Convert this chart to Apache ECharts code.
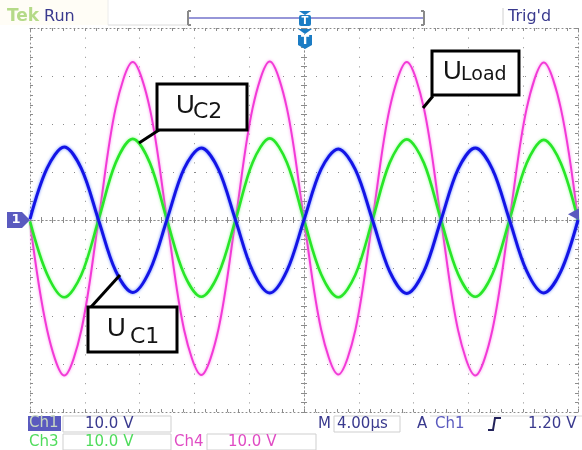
<!DOCTYPE html>
<html>
<head>
<meta charset="utf-8">
<script src="https://cdn.jsdelivr.net/npm/echarts@6/dist/echarts.min.js"></script>
<style>
  html, body { margin: 0; padding: 0; background: #fff; }
  #scope { width: 582px; height: 450px; }
</style>
</head>
<body>
<div id="scope"></div>
<script>
// Sample times (µs, trigger at 0) and the three captured voltages (V)
const timeUs = [-20, -18.75, -17.5, -16.25, -15, -13.75, -12.5, -11.25, -10, -8.75, -7.5, -6.25, -5,
  -3.75, -2.5, -1.25, 0, 1.25, 2.5, 3.75, 5, 6.25, 7.5, 8.75, 10, 11.25, 12.5, 13.75, 15, 16.25, 17.5, 18.75, 20];
const uC1 = [0.2, 10.8, 15.2, 10.7, 0, -10.6, -15.1, -10.5, 0.1, 10.7, 15.0, 10.6, 0, -10.6, -15.2, -10.6,
  0, 10.6, 14.8, 10.5, 0, -10.7, -15.3, -10.7, 0, 10.6, 15.0, 10.6, 0, -10.6, -15.2, -10.7, 0];
const uC2 = [-0.3, -11.3, -16.1, -11.4, 0, 11.9, 16.9, 11.9, 0, -11.3, -16.0, -11.3, 0, 12.0, 17.0, 12.0,
  0, -11.3, -16.1, -11.4, 0, 11.9, 16.8, 11.9, 0, -11.3, -16.0, -11.3, 0, 11.8, 16.7, 11.8, 0];
const uLoad = [-0.4, -22.9, -32.4, -22.9, 0, 23.3, 32.9, 23.2, 0, -22.9, -32.3, -22.8, 0, 23.3, 33.0, 23.3,
  0, -22.8, -32.2, -22.9, 0, 23.2, 32.9, 23.3, 0, -23.0, -32.4, -22.9, 0, 23.2, 32.8, 23.2, 0];

// Scope settings shown in the status bars
const chanNames = ['Ch1', 'Ch3', 'Ch4'];
const chanScales = ['10.0 V', '10.0 V', '10.0 V'];
const timebase = '4.00µs';
const trigSource = 'Ch1';
const trigLevelV = 1.20;
const trigLevelText = '1.20 V';

// Graticule: 10 x 8 divisions
const X_MIN = -20, X_MAX = 20, X_DIV = 4;
const Y_MIN = -40, Y_MAX = 40, Y_DIV = 10;
const G = { left: 30, top: 28, width: 548, height: 384 };

const DOT = '#8c8c8c';
const NAVY = '#3a3a8e';
const CH1 = '#5a5abf';
const CH3 = '#4fdc5c';
const CH4 = '#e04cc4';
const MARK = '#1b7cc4';
const FONT = '"DejaVu Sans", Verdana, sans-serif';

function pairs(vals) { return timeUs.map((t, i) => [t, vals[i]]); }

function axisBase(min, max, interval, extra) {
  return Object.assign({
    type: 'value', min: min, max: max, interval: interval,
    axisLabel: { show: false },
    splitLine: { show: false },
    axisLine: { show: true, onZero: false, lineStyle: { color: DOT, width: 1, type: [1, 3] } },
    axisTick: { show: true, inside: true, length: 3, lineStyle: { color: DOT } },
    minorTick: { show: true, splitNumber: 5, length: 3, lineStyle: { color: DOT } }
  }, extra);
}

const centreLine = { show: true, onZero: true, lineStyle: { color: DOT, width: 1, type: [1, 3] } };

const xAxes = [
  axisBase(X_MIN, X_MAX, X_DIV, { position: 'bottom',
    splitLine: { show: true, lineStyle: { color: DOT, width: 1, type: [1, 8.6] } } }),
  axisBase(X_MIN, X_MAX, X_DIV, { position: 'top' }),
  axisBase(X_MIN, X_MAX, X_DIV, { position: 'bottom', axisLine: centreLine }),
  axisBase(X_MIN, X_MAX, X_DIV, { position: 'bottom', axisLine: centreLine,
    axisTick: { show: true, inside: false, length: 3, lineStyle: { color: DOT } } })
];
const yAxes = [
  axisBase(Y_MIN, Y_MAX, Y_DIV, { position: 'left',
    splitLine: { show: true, lineStyle: { color: DOT, width: 1, type: [1, 10] } } }),
  axisBase(Y_MIN, Y_MAX, Y_DIV, { position: 'right' }),
  axisBase(Y_MIN, Y_MAX, Y_DIV, { position: 'left', axisLine: centreLine }),
  axisBase(Y_MIN, Y_MAX, Y_DIV, { position: 'left', axisLine: centreLine,
    axisTick: { show: true, inside: false, length: 3, lineStyle: { color: DOT } } })
];

function trace(name, vals, color, glow, width, z) {
  return {
    name: name, type: 'line', data: pairs(vals), xAxisIndex: 0, yAxisIndex: 0,
    showSymbol: false, smooth: 0.33, z: z, silent: true,
    lineStyle: { color: color, width: width, shadowColor: glow, shadowBlur: 3 }
  };
}

// Callout box with a big "U" and a subscript, plus a leader line to the trace
function callout(box, sub, uPos, subPos, subSize, leader) {
  return [
    { type: 'line', z: 100, shape: { x1: leader[0], y1: leader[1], x2: leader[2], y2: leader[3] },
      style: { stroke: '#000', lineWidth: 3 } },
    { type: 'rect', z: 101, shape: { x: box[0], y: box[1], width: box[2], height: box[3] },
      style: { fill: '#fff', stroke: '#000', lineWidth: 3 } },
    { type: 'text', z: 102, x: uPos[0], y: uPos[1],
      style: { text: 'U', font: '26px "Liberation Sans", Arial, sans-serif',
        fill: '#141414', verticalAlign: 'middle', align: 'left' } },
    { type: 'text', z: 102, x: subPos[0], y: subPos[1],
      style: { text: sub, font: subSize + 'px ' + FONT, fill: '#141414', verticalAlign: 'middle', align: 'left' } }
  ];
}

function label(text, x, y, color, extra) {
  return Object.assign({ type: 'text', z: 110, x: x, y: y,
    style: { text: text, font: '15px ' + FONT, fill: color, verticalAlign: 'middle', align: 'left' } }, extra || {});
}
function frame(x, y, w, h) {
  return { type: 'rect', z: 105, shape: { x: x, y: y, width: w, height: h },
    style: { fill: 'none', stroke: '#cfcfcf', lineWidth: 1 } };
}
function hline(x1, y, x2, color, w) {
  return { type: 'line', z: 105, shape: { x1: x1, y1: y, x2: x2, y2: y }, style: { stroke: color, lineWidth: w || 1 } };
}
function vline(x, y1, y2, color, w) {
  return { type: 'line', z: 105, shape: { x1: x, y1: y1, x2: x, y2: y2 }, style: { stroke: color, lineWidth: w || 1 } };
}

const trigY = G.top + (Y_MAX - trigLevelV) / (Y_MAX - Y_MIN) * G.height;
const midX = G.left + G.width / 2;
const midY = G.top + G.height / 2;

const graphics = [].concat(
  callout([157, 84, 90, 46], 'C2', [176, 106], [193, 112], 22, [159, 130, 139, 143]),
  callout([432, 51, 87, 44], 'Load', [443, 72], [461, 75], 19, [433, 96, 423, 108]),
  callout([88, 307, 89, 45], 'C1', [107, 329], [130, 337], 22, [91, 307, 120, 275]),
  [
    // header
    { type: 'rect', z: 104, shape: { x: 0, y: 0, width: 108, height: 25 }, style: { fill: '#fffdf6' } },
    label('Tek', 7, 17, '#b5da88', { style: { text: 'Tek', font: 'bold 17px ' + FONT, fill: '#b5da88', verticalAlign: 'middle', align: 'left' } }),
    label('Run', 44, 17, NAVY, { style: { text: 'Run', font: '16px ' + FONT, fill: NAVY, verticalAlign: 'middle', align: 'left' } }),
    vline(108, 0, 25, '#ececec'),
    hline(108, 25, 188, '#dcdcdc'),
    hline(188, 18, 425, '#9696d8', 2),
    vline(188, 11, 25, '#8a8a8a', 2), hline(188, 11, 191, '#8a8a8a', 2), hline(188, 25, 191, '#8a8a8a', 2),
    vline(424, 11, 25, '#8a8a8a', 2), hline(421, 11, 424, '#8a8a8a', 2), hline(421, 25, 424, '#8a8a8a', 2),
    { type: 'polygon', z: 106, shape: { points: [[299, 11], [311, 11], [305, 15]] }, style: { fill: MARK } },
    { type: 'rect', z: 106, shape: { x: 299, y: 15, width: 12, height: 11, r: 2 }, style: { fill: MARK } },
    label('T', 305, 21, '#fff', { style: { text: 'T', font: 'bold 10px ' + FONT, fill: '#fff', verticalAlign: 'middle', align: 'center' } }),
    { type: 'polygon', z: 106, shape: { points: [[298, 29], [312, 29], [305, 34]] }, style: { fill: MARK } },
    { type: 'polygon', z: 106, shape: { points: [[298, 35], [312, 35], [312, 45], [305, 49], [298, 45]] }, style: { fill: MARK } },
    label('T', midX + 1, 41, '#fff', { style: { text: 'T', font: 'bold 12px ' + FONT, fill: '#fff', verticalAlign: 'middle', align: 'center' } }),
    vline(503, 8, 25, '#d0d0d0'),
    label("Trig'd", 508, 17, NAVY, { style: { text: "Trig'd", font: '16px ' + FONT, fill: NAVY, verticalAlign: 'middle', align: 'left' } }),

    // channel 1 ground marker and trigger level marker
    { type: 'polygon', z: 106, shape: { points: [[7, midY - 8], [22, midY - 8], [30, midY], [22, midY + 8], [7, midY + 8]] }, style: { fill: CH1 } },
    label('1', 16, midY, '#fff', { style: { text: '1', font: 'bold 13px ' + FONT, fill: '#fff', verticalAlign: 'middle', align: 'center' } }),
    { type: 'polygon', z: 106, shape: { points: [[568, trigY], [579, trigY - 6], [579, trigY + 6]] }, style: { fill: CH1 } },

    // footer, row 1
    { type: 'rect', z: 106, shape: { x: 28, y: 416, width: 33, height: 15 }, style: { fill: CH1 } },
    label(chanNames[0], 29, 423.5, '#c9d8c2'),
    frame(63, 416, 108, 16),
    label(chanScales[0], 85, 424, NAVY),
    label('M', 318, 424, NAVY),
    frame(334, 416, 66, 16),
    label(timebase, 337, 424, NAVY),
    label('A', 417, 424, NAVY),
    hline(430, 416, 582, '#d8d8d8'),
    label(trigSource, 435, 424, CH1),
    { type: 'polyline', z: 110, shape: { points: [[488, 430], [493, 430], [495, 418], [501, 418]] }, style: { stroke: '#22225a', lineWidth: 2, fill: 'none' } },
    label(trigLevelText, 528, 424, NAVY),

    // footer, row 2
    label(chanNames[1], 29, 442, CH3),
    frame(63, 434, 108, 16),
    label(chanScales[1], 85, 442, CH3),
    label(chanNames[2], 174, 442, CH4),
    frame(207, 434, 109, 16),
    label(chanScales[2], 228, 442, CH4)
  ]
);

const chart = echarts.init(document.getElementById('scope'), null, { renderer: 'canvas' });
chart.setOption({
  animation: false,
  backgroundColor: '#ffffff',
  grid: { left: G.left, top: G.top, width: G.width, height: G.height, containLabel: false },
  xAxis: xAxes,
  yAxis: yAxes,
  series: [
    trace('ULoad', uLoad, '#f23ad6', 'rgba(250,120,235,0.8)', 2, 2),
    trace('UC2', uC2, '#28e628', 'rgba(120,250,120,0.8)', 2.6, 3),
    trace('UC1', uC1, '#1414e6', 'rgba(80,120,255,0.9)', 3, 4)
  ],
  graphic: graphics
});
</script>
</body>
</html>
